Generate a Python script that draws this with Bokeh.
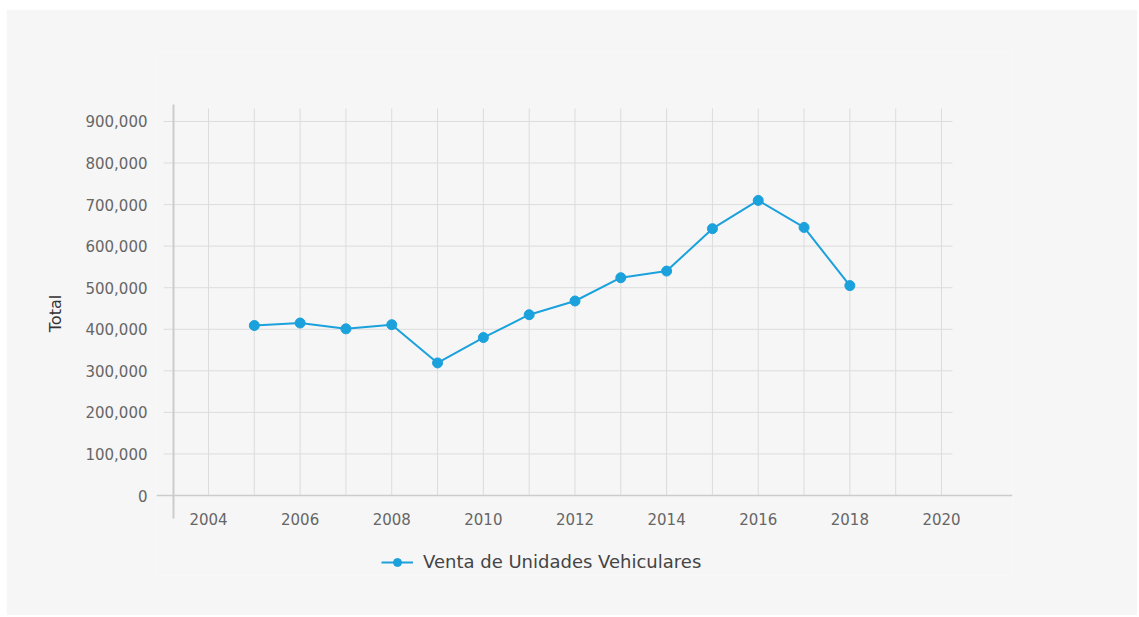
from bokeh.plotting import figure
from bokeh.models import (Range1d, FixedTicker, NumeralTickFormatter, Span,
                          Legend, LegendItem, ColumnDataSource)
from bokeh.embed import file_html
from bokeh.resources import INLINE

# ---- data ----
years = [2005, 2006, 2007, 2008, 2009, 2010, 2011, 2012, 2013, 2014, 2015, 2016, 2017, 2018]
ventas = [409000, 415000, 401000, 411000, 319000, 380000, 435000, 468000,
          524000, 540000, 642000, 710000, 645000, 505000]
series_name = "Venta de Unidades Vehiculares"
x_tick_years = [2004, 2006, 2008, 2010, 2012, 2014, 2016, 2018, 2020]
grid_years = list(range(2004, 2021))
y_ticks = [0, 100000, 200000, 300000, 400000, 500000, 600000, 700000, 800000, 900000]

FONT = "DejaVu Sans"
BG = "#f6f6f6"
LINE = "#1ba1dc"
GRID = "#dcdcdc"
AXIS = "#cccccc"

# extents of the drawn grid / axis lines (data units)
GRID_TOP = 931200
GRID_LEFT, GRID_RIGHT = 2003.02, 2020.24
YAXIS_X = 2003.236
YAXIS_TOP, YAXIS_BOTTOM = 940800, -55340

p = figure(width=1131, height=606, output_backend="svg", toolbar_location=None,
           x_range=Range1d(2002.865, 2021.55), y_range=Range1d(-192490, 1068330),
           min_border_left=150, min_border_right=125, min_border_top=42,
           min_border_bottom=40)
p.margin = (9, 0, 0, 6)
p.background_fill_color = BG
p.border_fill_color = BG
p.outline_line_color = None
p.xgrid.visible = False
p.ygrid.visible = False

# grid lines
p.segment(x0=grid_years, y0=[0] * len(grid_years), x1=grid_years,
          y1=[GRID_TOP] * len(grid_years), line_color=GRID, line_width=1)
p.segment(x0=[GRID_LEFT] * len(y_ticks), y0=y_ticks, x1=[GRID_RIGHT] * len(y_ticks),
          y1=y_ticks, line_color=GRID, line_width=1)

# axis lines
p.add_layout(Span(location=0, dimension="width", line_color=AXIS, line_width=1.5))
p.segment(x0=[YAXIS_X], y0=[YAXIS_BOTTOM], x1=[YAXIS_X], y1=[YAXIS_TOP],
          line_color=AXIS, line_width=2)

src = ColumnDataSource(dict(x=years, y=ventas))
lr = p.line("x", "y", source=src, line_color=LINE, line_width=2)
sr = p.scatter("x", "y", source=src, size=10, fill_color=LINE, line_color=LINE)

for ax in (p.xaxis[0], p.yaxis[0]):
    ax.axis_line_color = None
    ax.major_tick_line_color = None
    ax.minor_tick_line_color = None
    ax.major_tick_out = 0
    ax.major_tick_in = 0
    ax.major_label_text_font = FONT
    ax.major_label_text_font_size = "15px"
    ax.major_label_text_color = "#666666"

p.xaxis.fixed_location = 0
p.xaxis.ticker = FixedTicker(ticks=x_tick_years)
p.yaxis.ticker = FixedTicker(ticks=y_ticks)
p.yaxis.formatter = NumeralTickFormatter(format="0,0")
p.xaxis.major_label_standoff = 17
p.yaxis.major_label_standoff = 9
p.yaxis.axis_label = "Total"
p.yaxis.axis_label_text_font = FONT
p.yaxis.axis_label_text_font_style = "normal"
p.yaxis.axis_label_text_font_size = "16px"
p.yaxis.axis_label_text_color = "#333333"
p.yaxis.axis_label_standoff = 17

legend = Legend(items=[LegendItem(label=series_name, renderers=[lr, sr])],
                location=(225, 3), orientation="horizontal", padding=4,
                border_line_color=None, background_fill_alpha=0,
                label_text_font=FONT, label_text_font_size="18px",
                label_text_color="#444444", glyph_width=32, label_standoff=10)
p.add_layout(legend)

open("out.html", "w").write(file_html(p, INLINE))
